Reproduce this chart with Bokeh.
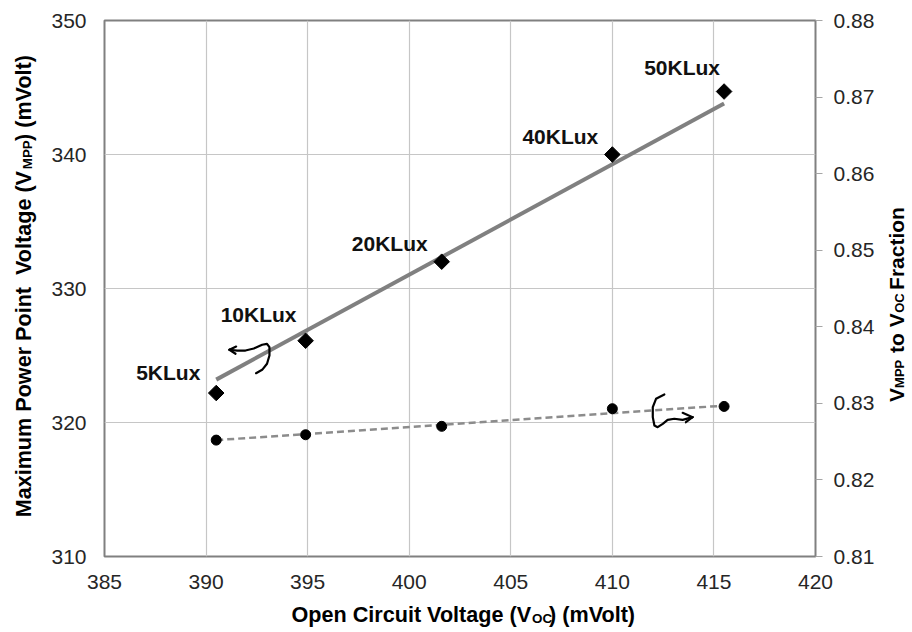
import math
from bokeh.plotting import figure
from bokeh.models import (Range1d, LinearAxis, FixedTicker, Label,
                          ColumnDataSource, PrintfTickFormatter)
from bokeh.core.properties import value
from bokeh.embed import file_html
from bokeh.resources import INLINE

# ---------------- data ----------------
voc = [390.5, 394.9, 401.6, 410.0, 415.5]            # Open circuit voltage (mV)
vmpp = [322.2, 326.1, 332.0, 340.0, 344.7]           # Max power point voltage (mV)
fraction = [0.8252, 0.8259, 0.8270, 0.8293, 0.8296]  # Vmpp / Voc
lux_labels = ["5KLux", "10KLux", "20KLux", "40KLux", "50KLux"]

vmpp_trend_x = [390.5, 415.5]
vmpp_trend_y = [323.2, 343.8]
frac_trend_x = [390.5, 415.5]
frac_trend_y = [0.8252, 0.8297]

x_ticks = [385, 390, 395, 400, 405, 410, 415, 420]
left_ticks = [310, 320, 330, 340, 350]
right_ticks = [0.81, 0.82, 0.83, 0.84, 0.85, 0.86, 0.87, 0.88]

# hand-drawn arrows (data coordinates of the left axis)
arrow1_x = [391.15, 391.53, 391.94, 392.35, 392.76, 393.00, 393.12, 393.12, 393.00, 392.76, 392.46]
arrow1_y = [325.43, 325.37, 325.37, 325.52, 325.80, 325.87, 325.62, 325.00, 324.38, 323.93, 323.68]
arrow1_barb_x = [391.48, 391.45]
arrow1_barb_y = [325.67, 325.13]
arrow2_x = [412.56, 412.15, 411.99, 411.99, 412.07, 412.23, 412.48, 412.72, 413.05, 413.46, 413.95]
arrow2_y = [322.09, 321.77, 321.14, 320.40, 319.78, 319.65, 319.90, 320.20, 320.28, 320.20, 320.40]
arrow2_barb_x = [413.46, 413.62]
arrow2_barb_y = [320.72, 320.02]

# ---------------- styles ----------------
FONT = "Liberation Sans"
FS = 21
TITLE_FS = 21.6
SUB_FS = 13.4
NB = "\u00a0"
label_dx = [-48, -47, -52, -52, -42]
label_dy = [-21, -26, -18, -18, -24]

X0, X1, Y0, Y1 = 385, 420, 310, 350
FRAME_W, FRAME_H = 713, 536

p = figure(width=912, height=632,
           x_range=Range1d(X0, X1), y_range=Range1d(Y0, Y1),
           output_backend="svg", toolbar_location=None,
           min_border_left=102, min_border_right=97,
           min_border_top=20, min_border_bottom=76,
           background_fill_color="white", border_fill_color="white",
           outline_line_color="#808080", outline_line_width=2)
p.extra_y_ranges = {"frac": Range1d(0.81, 0.88)}

# axes
p.xaxis.ticker = FixedTicker(ticks=x_ticks)
p.yaxis.ticker = FixedTicker(ticks=left_ticks)
for ax in (p.xaxis[0], p.yaxis[0]):
    ax.axis_line_color = None
    ax.major_tick_line_color = None
    ax.minor_tick_line_color = None
    ax.major_tick_out = 0
    ax.major_tick_in = 0
    ax.major_label_text_font = FONT
    ax.major_label_text_font_size = f"{FS}px"
    ax.major_label_text_color = "#262626"
p.xaxis.major_label_standoff = 18
p.yaxis.major_label_standoff = 18

raxis = LinearAxis(y_range_name="frac", ticker=FixedTicker(ticks=right_ticks),
                   formatter=PrintfTickFormatter(format="%.2f"))
raxis.axis_line_color = None
raxis.major_tick_line_color = "#a6a6a6"
raxis.major_tick_out = 7
raxis.major_tick_in = 0
raxis.minor_tick_line_color = None
raxis.major_label_standoff = 11
raxis.major_label_text_font = FONT
raxis.major_label_text_font_size = f"{FS}px"
raxis.major_label_text_color = "#262626"
p.add_layout(raxis, "right")

# grid
p.xgrid.ticker = FixedTicker(ticks=x_ticks)
p.ygrid.ticker = FixedTicker(ticks=left_ticks)
p.grid.grid_line_color = "#c6c6c6"
p.grid.grid_line_width = 1.2

# series
p.line(vmpp_trend_x, vmpp_trend_y, line_color="#808080", line_width=4)
p.line(frac_trend_x, frac_trend_y, y_range_name="frac", line_color="#8c8c8c",
       line_width=2.5, line_dash="7 4")
p.scatter(voc, vmpp, marker="square", angle=math.pi / 4, size=11,
          fill_color="black", line_color="black")
p.scatter(voc, fraction, y_range_name="frac", marker="circle", size=10,
          fill_color="black", line_color="black")

src = ColumnDataSource(dict(x=voc, y=vmpp, t=lux_labels, dx=label_dx, dy=label_dy))
p.text(x="x", y="y", text="t", x_offset="dx", y_offset="dy", source=src,
       text_font=value(FONT), text_font_size=f"{FS}px", text_font_style="bold",
       text_align="center", text_baseline="middle", text_color="#111111")

# arrows
p.line(arrow1_x, arrow1_y, line_color="black", line_width=2.2,
       line_join="round", line_cap="round")
p.segment(x0=[arrow1_x[0]] * 2, y0=[arrow1_y[0]] * 2, x1=arrow1_barb_x, y1=arrow1_barb_y,
          line_color="black", line_width=2.2, line_cap="round")
p.line(arrow2_x, arrow2_y, line_color="black", line_width=2.2,
       line_join="round", line_cap="round")
p.segment(x0=[arrow2_x[-1]] * 2, y0=[arrow2_y[-1]] * 2, x1=arrow2_barb_x, y1=arrow2_barb_y,
          line_color="black", line_width=2.2, line_cap="round")

# ---------------- axis titles with subscripts ----------------
WID = {' ': 278, NB: 278, '(': 333, ')': 333, '.': 278, 'A': 722, 'C': 722, 'F': 611,
       'K': 722, 'L': 611, 'M': 833, 'O': 778, 'P': 667, 'V': 667, 'a': 556, 'c': 556,
       'e': 556, 'g': 611, 'i': 278, 'l': 278, 'm': 889, 'n': 611, 'o': 611, 'p': 611,
       'r': 389, 't': 333, 'u': 611, 'w': 778, 'x': 556}


def tw(s, size):
    return sum(WID.get(c, 556) for c in s) * size / 1000.0


def px_to_data(px, py):
    # pixel offsets from the frame's bottom-left corner (y up) -> data units
    return X0 + px * (X1 - X0) / FRAME_W, Y0 + py * (Y1 - Y0) / FRAME_H


def add_label(text, lx, ly, fs, vertical, side):
    dx, dy = px_to_data(lx, ly)
    p.add_layout(Label(x=dx, y=dy, text=text, angle=(math.pi / 2 if vertical else 0),
                       text_font=FONT, text_font_size=f"{fs}px", text_font_style="bold",
                       text_color="black", text_align="left",
                       text_baseline="alphabetic"), side)


def title(main, subs, cx, cy, vertical, main_side, sub_side, fs, sub_fs, shift=4):
    """main: full text with NBSP gaps; subs: list of (prefix_before_sub, sub_text)."""
    total = tw(main, fs)
    start = -total / 2.0
    if vertical:
        add_label(main, cx, cy + start, fs, True, main_side)
    else:
        add_label(main, cx + start, cy, fs, False, main_side)
    # one label carrying all subscripts of this title
    first = tw(subs[0][0], fs)
    sub_text = subs[0][1]
    cur = first + tw(subs[0][1], sub_fs)
    for prefix, s in subs[1:]:
        target = tw(prefix, fs)
        n = max(1, round((target - cur) / tw(NB, sub_fs)))
        sub_text += NB * n + s
        cur += n * tw(NB, sub_fs) + tw(s, sub_fs)
    if vertical:
        add_label(sub_text, cx + shift, cy + start + first, sub_fs, True, sub_side)
    else:
        add_label(sub_text, cx + start + first, cy - shift, sub_fs, False, sub_side)


left_pre = "Maximum Power Point " + NB + "Voltage (V"
title(left_pre + NB * 5 + ") (mVolt)", [(left_pre, "MPP")],
      -81, 272, True, "left", "right", TITLE_FS, SUB_FS)

bot_pre = "Open Circuit Voltage (V"
title(bot_pre + NB * 3 + ") (mVolt)", [(bot_pre, "OC")],
      361, -58, False, "below", "above", TITLE_FS, SUB_FS)

r1 = "V"
r2 = r1 + NB * 5 + " to V"
title(r2 + NB * 3 + " Fraction", [(r1, "MPP"), (r2, "OC")],
      794, 252, True, "left", "right", FS, 13, shift=3)

open("out.html", "w").write(file_html(p, INLINE))
